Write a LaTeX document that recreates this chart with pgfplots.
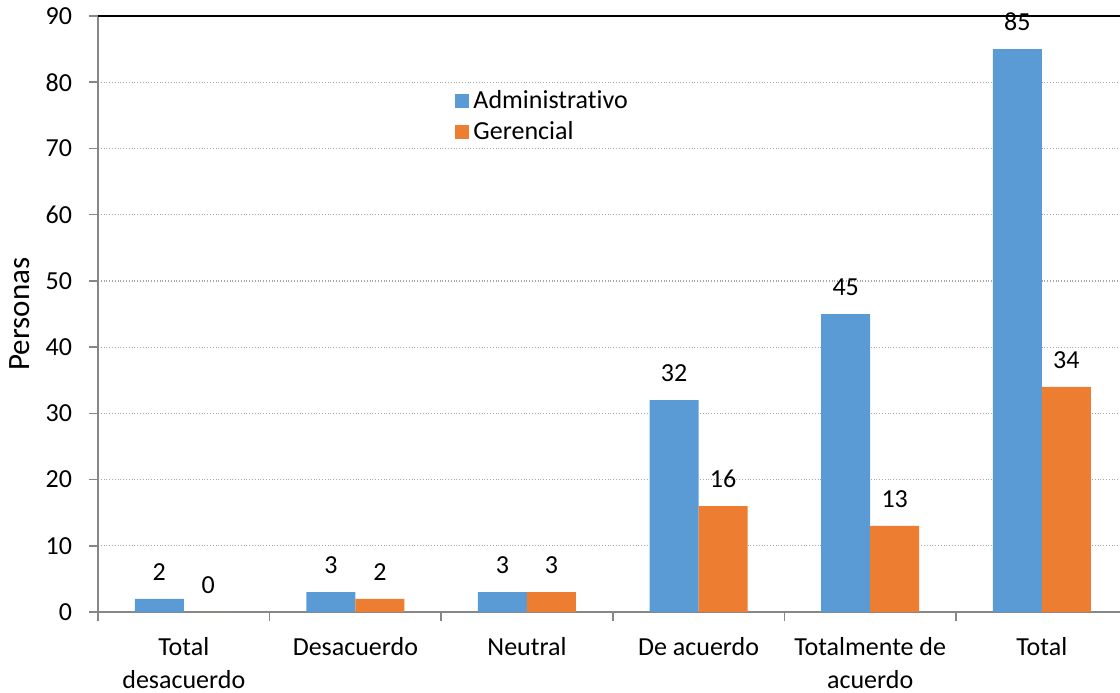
\documentclass[border=0pt]{standalone}
\usepackage{fontspec}
\setmainfont{Carlito}[Ligatures=NoCommon]
\usepackage{pgfplots}
\pgfplotsset{compat=1.18}
\definecolor{admblue}{HTML}{5B9BD5}
\definecolor{gerorange}{HTML}{ED7D31}
\definecolor{axisgray}{HTML}{878787}
\begin{document}
\begin{tikzpicture}
\path[use as bounding box] (0,0) rectangle (560pt,346pt);
\begin{axis}[
  at={(49pt,40pt)}, anchor=south west,
  scale only axis, width=514.8pt, height=298pt,
  xmin=-0.5, xmax=5.5, ymin=0, ymax=90,
  ybar=0pt, bar width=24.5pt,
  axis x line*=bottom, axis y line*=left,
  axis line style={axisgray, line width=0.8pt},
  ytick={0,10,...,90},
  ymajorgrids, major grid style={densely dotted, gray!70, line width=0.6pt},
  tick style={axisgray, line width=0.8pt},
  major tick length=4.5pt, tick align=outside,
  xtick={-0.5,0.5,...,5.5},
  x tick label as interval,
  xticklabels={{Total\\desacuerdo},Desacuerdo,Neutral,De acuerdo,{Totalmente de\\acuerdo},Total},
  xticklabel style={align=center, font=\fontsize{13}{16.5}\selectfont, yshift=-4.5pt},
  yticklabel style={font=\fontsize{13}{16}\selectfont, xshift=-5pt},
  /pgf/number format/assume math mode=true,
  ylabel={Personas},
  every axis y label/.style={at={(rel axis cs:0,0.5)}, rotate=90, anchor=center,
    yshift=39pt, font=\fontsize{15.5}{18}\selectfont},
  nodes near coords,
  every node near coord/.append style={font=\fontsize{13}{16}\selectfont, black, yshift=5.5pt},
  clip=false,
  legend style={at={(rel axis cs:0.341,0.889)}, anchor=north west, draw=none, fill=none,
    font=\fontsize{13}{16}\selectfont, row sep=1pt},
  legend cell align=left,
  legend image code/.code={\fill[#1] (0pt,-3.5pt) rectangle (7pt,3.5pt);},
]
\addplot[fill=admblue, draw=none] coordinates {(0,2) (1,3) (2,3) (3,32) (4,45) (5,85)};
\addplot[fill=gerorange, draw=none] coordinates {(0,0) (1,2) (2,3) (3,16) (4,13) (5,34)};
\legend{Administrativo,Gerencial}
\draw[black, line width=1.1pt] (rel axis cs:0,1) -- (rel axis cs:1,1);
\end{axis}
\end{tikzpicture}
\end{document}
